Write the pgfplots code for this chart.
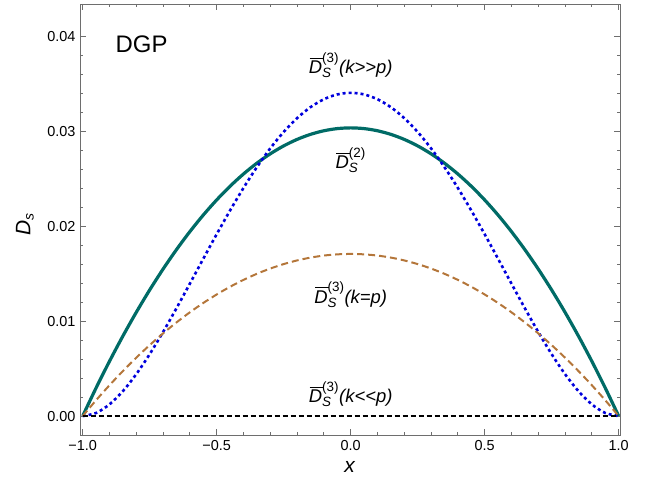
\documentclass[border=0pt]{standalone}
\usepackage{pgfplots}
\pgfplotsset{compat=1.18}
\usepackage{fontspec}
\setmainfont{Liberation Sans}[Ligatures=TeXOff]
\definecolor{teal2}{RGB}{0,107,102}
\definecolor{brown2}{RGB}{180,118,58}
\definecolor{blue2}{RGB}{0,0,221}
\definecolor{frame}{RGB}{110,110,110}
\newcommand{\barD}{\rlap{\kern0.8pt\raisebox{14.6pt}{\rule{13.5pt}{1.3pt}}}\textit{D}}
\newcommand{\lab}[1]{$\mbox{\barD}_{\mbox{\fontsize{13.5}{15}\selectfont\textit{S}}}^{\mbox{\fontsize{13.5}{15}\selectfont(#1)}}$}
\begin{document}
\begin{tikzpicture}
\begin{axis}[
  scale only axis, width=540bp, height=431bp,
  xmin=-1.01, xmax=1.005, ymin=-0.002, ymax=0.04347,
  axis line style={frame, line width=0.8bp},
  tick style={frame, line width=0.8bp},
  tick align=inside,
  major tick length=6bp, minor tick length=3.5bp,
  xtick={-1,-0.5,0,0.5,1},
  xticklabels={−1.0,−0.5,0.0,0.5,1.0},
  minor x tick num=4,
  ytick={0,0.01,0.02,0.03,0.04},
  yticklabels={0.00,0.01,0.02,0.03,0.04},
  minor y tick num=4,
  scaled y ticks=false,
  tick label style={font=\fontsize{14.5}{17}\selectfont, black},
  /pgf/number format/assume math mode=true,
  xticklabel style={yshift=-2bp},
  yticklabel style={xshift=-1bp},
  xlabel={\textit{x}},
  ylabel={\textit{D}$_{\mbox{\fontsize{14}{16}\selectfont\textit{s}}}$},
  label style={font=\fontsize{21}{24}\selectfont},
  xlabel style={at={(axis description cs:0.5,-0.074)}, anchor=center},
  ylabel style={at={(axis description cs:-0.102,0.488)}, anchor=center},
  clip=true,
]
\addplot[teal2, line width=3.2bp, smooth] coordinates {
(-1,0) (-0.95,0.002964) (-0.9,0.005776) (-0.85,0.008436) (-0.8,0.010944) (-0.75,0.0133) (-0.7,0.015504) (-0.65,0.017556) (-0.6,0.019456) (-0.55,0.021204) (-0.5,0.0228) (-0.45,0.024244) (-0.4,0.025536) (-0.35,0.026676) (-0.3,0.027664) (-0.25,0.0285) (-0.2,0.029184) (-0.15,0.029716) (-0.1,0.030096) (-0.05,0.030324)
(0,0.0304)
(0.05,0.030324) (0.1,0.030096) (0.15,0.029716) (0.2,0.029184) (0.25,0.0285) (0.3,0.027664) (0.35,0.026676) (0.4,0.025536) (0.45,0.024244) (0.5,0.0228) (0.55,0.021204) (0.6,0.019456) (0.65,0.017556) (0.7,0.015504) (0.75,0.0133) (0.8,0.010944) (0.85,0.008436) (0.9,0.005776) (0.95,0.002964) (1,0)
};
\addplot[blue2, line width=2.6bp, dash pattern=on 3bp off 3bp, smooth] coordinates {
(-1,0) (-0.95,0.000324) (-0.9,0.001231) (-0.85,0.002626) (-0.8,0.004419) (-0.75,0.006527) (-0.7,0.008869) (-0.65,0.011373) (-0.6,0.013967) (-0.55,0.01659) (-0.5,0.019181) (-0.45,0.021688) (-0.4,0.024061) (-0.35,0.026257) (-0.3,0.028238) (-0.25,0.029971) (-0.2,0.031427) (-0.15,0.032583) (-0.1,0.033421) (-0.05,0.03393)
(0,0.0341)
(0.05,0.03393) (0.1,0.033421) (0.15,0.032583) (0.2,0.031427) (0.25,0.029971) (0.3,0.028238) (0.35,0.026257) (0.4,0.024061) (0.45,0.021688) (0.5,0.019181) (0.55,0.01659) (0.6,0.013967) (0.65,0.011373) (0.7,0.008869) (0.75,0.006527) (0.8,0.004419) (0.85,0.002626) (0.9,0.001231) (0.95,0.000324) (1,0)
};
\addplot[brown2, line width=2bp, dash pattern=on 7bp off 4bp, smooth] coordinates {
(-1,0) (-0.95,0.001667) (-0.9,0.003249) (-0.85,0.004745) (-0.8,0.006156) (-0.75,0.007481) (-0.7,0.008721) (-0.65,0.009875) (-0.6,0.010944) (-0.55,0.011927) (-0.5,0.012825) (-0.45,0.013637) (-0.4,0.014364) (-0.35,0.015005) (-0.3,0.015561) (-0.25,0.016031) (-0.2,0.016416) (-0.15,0.016715) (-0.1,0.016929) (-0.05,0.017057)
(0,0.0171)
(0.05,0.017057) (0.1,0.016929) (0.15,0.016715) (0.2,0.016416) (0.25,0.016031) (0.3,0.015561) (0.35,0.015005) (0.4,0.014364) (0.45,0.013637) (0.5,0.012825) (0.55,0.011927) (0.6,0.010944) (0.65,0.009875) (0.7,0.008721) (0.75,0.007481) (0.8,0.006156) (0.85,0.004745) (0.9,0.003249) (0.95,0.001667) (1,0)
};
\addplot[black, line width=2.8bp, dash pattern=on 5bp off 3bp] coordinates {(-1,0) (1,0)};
\node[anchor=west, font=\fontsize{24}{28}\selectfont] at (axis cs:-0.89,0.0392) {DGP};
\node[font=\fontsize{18.5}{22}\selectfont] at (axis cs:0,0.0370) {\lab{3}\textit{(k>>p)}};
\node[font=\fontsize{18.5}{22}\selectfont] at (axis cs:0,0.0270) {\lab{2}};
\node[font=\fontsize{18.5}{22}\selectfont] at (axis cs:0,0.0128) {\lab{3}\textit{(k=p)}};
\node[font=\fontsize{18.5}{22}\selectfont] at (axis cs:0,0.0023) {\lab{3}\textit{(k<<p)}};
\end{axis}
\pgfresetboundingbox
\useasboundingbox ([shift={(-80bp,-49bp)}]current axis.south west) rectangle ([shift={(27bp,4bp)}]current axis.north east);
\end{tikzpicture}
\end{document}
